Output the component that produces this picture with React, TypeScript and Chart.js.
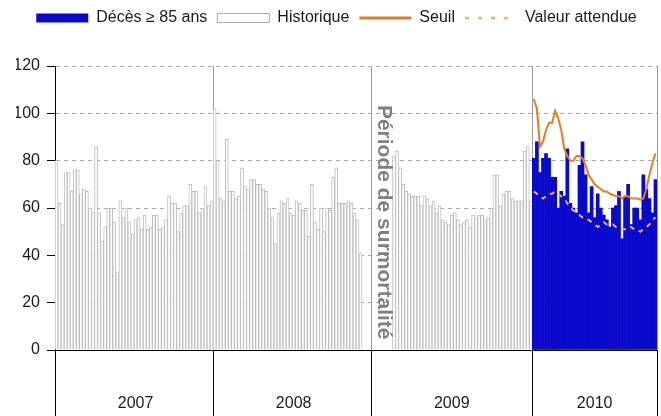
import React, { useEffect, useRef } from 'react';
import { Chart, registerables } from 'chart.js';

Chart.register(...registerables);

// ---------- data ----------
const YEARS = ['2007', '2008', '2009', '2010'];
const WEEKS_PER_YEAR = [52, 52, 53, 41];

const HIST_2007 = [
  80, 62, 53, 75, 75, 67, 76, 76, 66, 68,
  67, 60, 58, 86, 58, 46, 52, 60, 60, 54,
  33, 63, 56, 60, 54, 49, 55, 56, 51, 57,
  51, 52, 57, 57, 51, 52, 55, 65, 62, 62,
  50, 58, 61, 61, 70, 67, 67, 58, 60, 69,
  61, 63,
];

const HIST_2008 = [
  102, 80, 64, 63, 89, 67, 67, 64, 65, 77,
  69, 68, 72, 72, 70, 70, 68, 67, 60, 56,
  45, 58, 63, 62, 64, 58, 57, 63, 62, 59,
  59, 48, 70, 54, 51, 60, 50, 60, 59,
  73, 77, 62, 62, 62, 63, 62, 58, 55, 41,
  null, null, null,
];

const HIST_2009 = [
  null, null, null, null, null, null, null,
  82, 84, 77, 70, 67, 66, 65, 65, 65, 61,
  65, 64, 61, 63, 58, 61, 55, 54, 53, 57,
  58, 55, 53, 54, 55, 52, 57, 56, 57, 57,
  55, 56, 60, 74, 74, 61, 66, 67, 67, 64,
  63, 63, 63, 84, 86, 63,
];

const DECES_2010 = [
  81, 88, 75, 81, 83, 81, 73, 73, 60, 67,
  65, 85, 62, 60, 58, 78, 88, 74, 58, 69,
  56, 66, 60, 57, 55, 52, 60, 61, 67, 47,
  65, 70, 53, 60, 60, 55, 74, 68, 64, 58,
  72,
];

const SEUIL_2010 = [
  106, 102, 86, 88, 93, 96, 96, 101, 98, 93,
  85, 82, 80, 80, 82, 82, 81, 78, 74, 72,
  70, 69, 68, 67, 67, 66, 65.5, 65, 65, 64,
  65, 65, 64, 64, 64, 63.5, 64, 68, 74, 79,
  83,
];

const ATTENDU_2010 = [
  67, 66, 65, 64, 65, 66, 66, 67, 66, 65,
  64, 62, 60, 59, 58, 57, 56, 55, 55, 54,
  53, 52, 53, 54, 53, 53, 53, 52, 52, 51,
  51, 51, 52, 51, 51, 50, 51, 52, 53, 55,
  56,
];

const Y_MIN = 0;
const Y_MAX = 120;
const Y_STEP = 20;

const SERIES_NAMES = ['Décès ≥ 85 ans', 'Historique', 'Seuil', 'Valeur attendue'];
const PERIOD_TEXT = 'Période de surmortalité';

// ---------- styles ----------
const FONT = '"Liberation Sans", Arial, sans-serif';
const BLUE = '#0A0ACC';
const HIST_BORDER = '#BDBDBD';
const SEUIL_COLOR = '#E57C22';
const ATTENDU_COLOR = '#F0B45C';
const TEXT_COLOR = '#1A1A1A';

// ---------- derived tables ----------
const LABELS: string[] = [];
const YEAR_START: number[] = [];
const YEAR_MID: Record<number, string> = {};
{
  let idx = 0;
  YEARS.forEach((y, yi) => {
    YEAR_START.push(idx);
    const n = WEEKS_PER_YEAR[yi];
    YEAR_MID[idx + Math.floor(n / 2)] = y;
    for (let w = 1; w <= n; w++) LABELS.push(`${y}-S${String(w).padStart(2, '0')}`);
    idx += n;
  });
  YEAR_START.push(idx);
}
const N2010 = WEEKS_PER_YEAR[3];
const HIST_ALL = [...HIST_2007, ...HIST_2008, ...HIST_2009, ...new Array(N2010).fill(null)];
const PRE_2010 = new Array(LABELS.length - N2010).fill(null);
const DECES_ALL = [...PRE_2010, ...DECES_2010];
const SEUIL_ALL = [...PRE_2010, ...SEUIL_2010];
const ATTENDU_ALL = [...PRE_2010, ...ATTENDU_2010];

// position of the vertical annotation: inside the gap around the 2008/2009 boundary
const PERIOD_CATEGORY = YEAR_START[2] + 3.5;
const PERIOD_VALUE = 54;

const isBoundary = (ctx: any) => ctx.index === undefined || YEAR_START.includes(ctx.index);

const legendGap = {
  id: 'legendGap',
  afterInit(chart: any) {
    const legend = chart.legend;
    if (!legend) return;
    const fit = legend.fit;
    legend.fit = function () {
      fit.call(this);
      this.height += 30;
    };
  },
};

const periodLabel = {
  id: 'periodLabel',
  afterDatasetsDraw(chart: any) {
    const { ctx, scales } = chart;
    const x = scales.x.getPixelForValue(PERIOD_CATEGORY);
    const y = scales.y.getPixelForValue(PERIOD_VALUE);
    ctx.save();
    ctx.translate(x, y);
    ctx.rotate(Math.PI / 2);
    ctx.font = `bold 21px ${FONT}`;
    ctx.fillStyle = '#808080';
    ctx.textAlign = 'center';
    ctx.textBaseline = 'middle';
    ctx.fillText(PERIOD_TEXT, 0, 0);
    ctx.restore();
  },
};

export default function App() {
  const canvasRef = useRef<HTMLCanvasElement | null>(null);

  useEffect(() => {
    if (!canvasRef.current) return;
    const chart = new Chart(canvasRef.current, {
      type: 'bar',
      data: {
        labels: LABELS,
        datasets: [
          {
            type: 'line',
            label: SERIES_NAMES[2],
            data: SEUIL_ALL,
            borderColor: SEUIL_COLOR,
            backgroundColor: SEUIL_COLOR,
            borderWidth: 2,
            pointRadius: 0,
            tension: 0,
            spanGaps: false,
          } as any,
          {
            type: 'line',
            label: SERIES_NAMES[3],
            data: ATTENDU_ALL,
            borderColor: ATTENDU_COLOR,
            backgroundColor: ATTENDU_COLOR,
            borderWidth: 2,
            borderDash: [5, 5],
            pointRadius: 0,
            tension: 0,
            spanGaps: false,
          } as any,
          {
            type: 'bar',
            label: SERIES_NAMES[0],
            data: DECES_ALL,
            backgroundColor: BLUE,
            borderWidth: 0,
            barPercentage: 1,
            categoryPercentage: 1,
            grouped: false,
          } as any,
          {
            type: 'bar',
            label: SERIES_NAMES[1],
            data: HIST_ALL,
            backgroundColor: '#FFFFFF',
            borderColor: HIST_BORDER,
            borderWidth: 1,
            barPercentage: 1,
            categoryPercentage: 1,
            grouped: false,
          } as any,
        ],
      },
      options: {
        animation: false,
        responsive: false,
        devicePixelRatio: 1,
        layout: { padding: { left: 16, right: 4, top: 0, bottom: 0 } },
        plugins: {
          tooltip: { enabled: false },
          legend: {
            position: 'top',
            onClick: () => {},
            labels: {
              usePointStyle: true,
              pointStyleWidth: 52,
              boxHeight: 9,
              padding: 10,
              color: TEXT_COLOR,
              font: { family: FONT, size: 16 },
              generateLabels: () => [
                { text: SERIES_NAMES[0], fillStyle: BLUE, strokeStyle: BLUE, lineWidth: 0, pointStyle: 'rect', hidden: false, fontColor: TEXT_COLOR, datasetIndex: 2 },
                { text: SERIES_NAMES[1], fillStyle: '#FFFFFF', strokeStyle: '#A8A8A8', lineWidth: 1, pointStyle: 'rect', hidden: false, fontColor: TEXT_COLOR, datasetIndex: 3 },
                { text: SERIES_NAMES[2], fillStyle: 'rgba(0,0,0,0)', strokeStyle: SEUIL_COLOR, lineWidth: 3, pointStyle: 'line', hidden: false, fontColor: TEXT_COLOR, datasetIndex: 0 },
                { text: SERIES_NAMES[3], fillStyle: 'rgba(0,0,0,0)', strokeStyle: ATTENDU_COLOR, lineWidth: 2.5, lineDash: [4, 9], pointStyle: 'line', hidden: false, fontColor: TEXT_COLOR, datasetIndex: 1 },
              ] as any,
            },
          },
        },
        scales: {
          x: {
            type: 'category',
            offset: true,
            afterFit: (scale: any) => { scale.height = 66; },
            grid: {
              offset: true,
              drawOnChartArea: true,
              color: (ctx: any) => (isBoundary(ctx) ? '#9A9A9A' : 'rgba(0,0,0,0)'),
              tickColor: (ctx: any) => (isBoundary(ctx) ? '#000000' : 'rgba(0,0,0,0)'),
              tickLength: 66,
              lineWidth: 1,
            },
            border: { display: true, color: '#000000', width: 1 },
            ticks: {
              autoSkip: false,
              maxRotation: 0,
              minRotation: 0,
              padding: -22,
              color: TEXT_COLOR,
              font: { family: FONT, size: 16 },
              callback: (_v: any, index: number) => YEAR_MID[index] ?? '',
            },
          },
          y: {
            min: Y_MIN,
            max: Y_MAX,
            afterFit: (scale: any) => { scale.width = 39; },
            grid: {
              color: '#A8A8A8',
              tickColor: '#000000',
              tickLength: 8,
              lineWidth: 1,
            },
            border: { display: true, color: '#000000', width: 1, dash: [4, 4] },
            ticks: {
              stepSize: Y_STEP,
              padding: 7,
              color: TEXT_COLOR,
              font: { family: FONT, size: 16 },
            },
          },
        },
      },
      plugins: [legendGap, periodLabel],
    });
    return () => chart.destroy();
  }, []);

  return (
    <div style={{ width: 661, height: 416, position: 'relative' }}>
      <style>{`html,body{margin:0;padding:0;overflow:hidden;background:#fff}`}</style>
      <canvas ref={canvasRef} width={661} height={416} style={{ display: 'block' }} />
    </div>
  );
}
